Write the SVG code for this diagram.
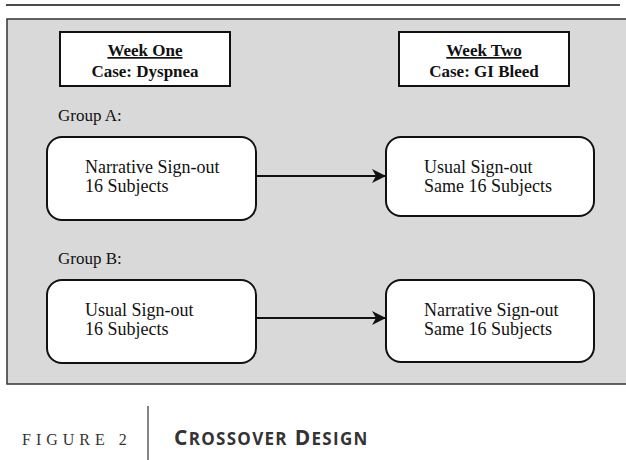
<svg xmlns="http://www.w3.org/2000/svg" width="626" height="460" viewBox="0 0 626 460">
<style>
.hdr{fill:#fff;stroke:#111;stroke-width:2}
.node{fill:#fff;stroke:#111;stroke-width:2}
.ht{font-family:"Liberation Serif",serif;font-weight:bold;font-size:17px;fill:#111;text-anchor:middle}
.t{font-family:"Liberation Serif",serif;font-size:18px;fill:#111}
.g{font-family:"Liberation Serif",serif;font-size:17px;fill:#111}
.conn{stroke:#111;stroke-width:2;fill:none}
</style>
<defs>
<marker id="ah" markerWidth="14" markerHeight="14" refX="13" refY="7" orient="auto" markerUnits="userSpaceOnUse">
<path d="M0,0 L14,7 L0,14 L4,7 Z" fill="#111"/>
</marker>
</defs>
<rect x="0" y="0" width="626" height="460" fill="#fff"/>
<line x1="6" y1="5" x2="620" y2="5" stroke="#111" stroke-width="1.5"/>
<rect x="7" y="19" width="630" height="365" fill="#d9d9d9" stroke="#333" stroke-width="1.5"/>
<g id="week-one">
<rect class="hdr" x="60" y="32" width="170" height="54"/>
<text class="ht" x="145" y="56" text-decoration="underline">Week One</text>
<text class="ht" x="145" y="77">Case: Dyspnea</text>
</g>
<g id="week-two">
<rect class="hdr" x="399" y="32" width="170" height="54"/>
<text class="ht" x="484" y="56" text-decoration="underline">Week Two</text>
<text class="ht" x="484" y="77">Case: GI Bleed</text>
</g>
<text class="g" x="58" y="121">Group A:</text>
<text class="g" x="58" y="264">Group B:</text>
<g id="a1">
<rect class="node" x="47" y="137" width="209" height="83" rx="15"/>
<text class="t" x="85" y="173">Narrative Sign-out</text>
<text class="t" x="85" y="192">16 Subjects</text>
</g>
<g id="a2">
<rect class="node" x="386" y="137" width="208" height="79" rx="15"/>
<text class="t" x="424" y="173">Usual Sign-out</text>
<text class="t" x="424" y="192">Same 16 Subjects</text>
</g>
<g id="b1">
<rect class="node" x="47" y="280" width="209" height="83" rx="15"/>
<text class="t" x="85" y="316">Usual Sign-out</text>
<text class="t" x="85" y="335">16 Subjects</text>
</g>
<g id="b2">
<rect class="node" x="386" y="280" width="208" height="82" rx="15"/>
<text class="t" x="424" y="316">Narrative Sign-out</text>
<text class="t" x="424" y="335">Same 16 Subjects</text>
</g>
<g id="connectors">
<line class="conn" x1="256" y1="176" x2="385" y2="176" marker-end="url(#ah)"/>
<line class="conn" x1="256" y1="318" x2="385" y2="318" marker-end="url(#ah)"/>
</g>
<g id="caption">
<text x="22" y="445" font-family="Liberation Serif,serif" font-size="16" letter-spacing="5" fill="#333">FIGURE 2</text>
<line x1="148" y1="406" x2="148" y2="460" stroke="#333" stroke-width="1.2"/>
<text x="174" y="445" font-family="Open Sans,sans-serif" font-weight="bold" letter-spacing="1.3" fill="#333"><tspan font-size="21">C</tspan><tspan font-size="17">ROSSOVER</tspan><tspan font-size="21"> D</tspan><tspan font-size="17">ESIGN</tspan></text>
</g>
</svg>
